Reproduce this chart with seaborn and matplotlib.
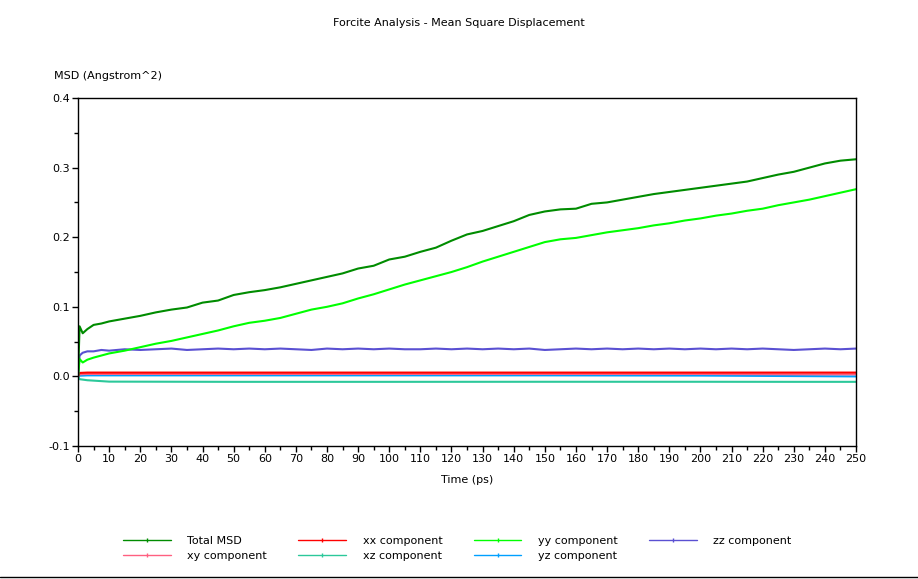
import pandas as pd
import matplotlib.pyplot as plt
import seaborn as sns
from matplotlib.lines import Line2D
from matplotlib.ticker import MultipleLocator, FormatStrFormatter

# ── data ──────────────────────────────────────────────────────
time = [0, 0.5, 1.5, 3, 5, 7.5] + list(range(10, 255, 5))

total_msd = [0.0, 0.072, 0.062, 0.068, 0.074, 0.076,
             0.079, 0.083, 0.087, 0.092, 0.096, 0.099, 0.106, 0.109, 0.117, 0.121,
             0.124, 0.128, 0.133, 0.138, 0.143, 0.148, 0.155, 0.159, 0.168, 0.172,
             0.179, 0.185, 0.195, 0.204, 0.209, 0.216, 0.223, 0.232, 0.237, 0.240,
             0.241, 0.248, 0.250, 0.254, 0.258, 0.262, 0.265, 0.268, 0.271, 0.274,
             0.277, 0.280, 0.285, 0.290, 0.294, 0.300, 0.306, 0.310, 0.312]

yy = [0.0, 0.025, 0.020, 0.024, 0.027, 0.030,
      0.033, 0.037, 0.042, 0.047, 0.051, 0.056, 0.061, 0.066, 0.072, 0.077,
      0.080, 0.084, 0.090, 0.096, 0.100, 0.105, 0.112, 0.118, 0.125, 0.132,
      0.138, 0.144, 0.150, 0.157, 0.165, 0.172, 0.179, 0.186, 0.193, 0.197,
      0.199, 0.203, 0.207, 0.210, 0.213, 0.217, 0.220, 0.224, 0.227, 0.231,
      0.234, 0.238, 0.241, 0.246, 0.250, 0.254, 0.259, 0.264, 0.269]

zz = [0.0, 0.030, 0.034, 0.036, 0.036, 0.038,
      0.037, 0.039, 0.038, 0.039, 0.040, 0.038, 0.039, 0.040, 0.039, 0.040,
      0.039, 0.040, 0.039, 0.038, 0.040, 0.039, 0.040, 0.039, 0.040, 0.039,
      0.039, 0.040, 0.039, 0.040, 0.039, 0.040, 0.039, 0.040, 0.038, 0.039,
      0.040, 0.039, 0.040, 0.039, 0.040, 0.039, 0.040, 0.039, 0.040, 0.039,
      0.040, 0.039, 0.040, 0.039, 0.038, 0.039, 0.040, 0.039, 0.040]

time_flat = [0, 0.5, 3, 10, 50, 100, 150, 200, 230, 250]
xx = [0.0, 0.005, 0.0055, 0.0055, 0.0055, 0.0055, 0.0055, 0.0055, 0.0055, 0.0055]
xy = [0.0, 0.003, 0.0035, 0.0035, 0.0035, 0.0035, 0.0035, 0.0035, 0.003, 0.003]
xz = [0.0, -0.004, -0.0055, -0.0075, -0.0078, -0.0078, -0.0077, -0.0077, -0.0078, -0.0078]
yz = [0.0, 0.001, 0.0015, 0.0015, 0.0015, 0.0015, 0.0015, 0.0012, 0.0005, 0.0]

colors = {
    'Total MSD': '#008c00',
    'xx component': '#ff0000',
    'yy component': '#00ff00',
    'zz component': '#5a50d2',
    'xy component': '#ff6080',
    'xz component': '#2cc89a',
    'yz component': '#00a0ff',
}

# ── long table for seaborn ────────────────────────────────────
frames = []
for name, t, v in [('xz component', time_flat, xz), ('yz component', time_flat, yz),
                   ('xy component', time_flat, xy), ('xx component', time_flat, xx),
                   ('zz component', time, zz), ('yy component', time, yy),
                   ('Total MSD', time, total_msd)]:
    frames.append(pd.DataFrame({'time': t, 'msd': v, 'series': name}))
df = pd.concat(frames, ignore_index=True)

sns.set_style('white')
plt.rcParams.update({
    'font.family': ['DejaVu Sans'],
    'font.size': 8,
    'text.color': 'black',
    'axes.labelcolor': 'black',
    'xtick.color': 'black',
    'ytick.color': 'black',
})

fig = plt.figure(figsize=(9.18, 5.79), dpi=100)
ax = fig.add_axes([0.085, 0.2297, 0.8475, 0.601])

sns.lineplot(data=df, x='time', y='msd', hue='series', palette=colors,
             hue_order=list(df['series'].unique()), sort=False,
             linewidth=1.5, legend=False, ax=ax, estimator=None)

ax.set_xlim(0, 250)
ax.set_ylim(-0.1, 0.4)
ax.xaxis.set_major_locator(MultipleLocator(10))
ax.xaxis.set_minor_locator(MultipleLocator(5))
ax.yaxis.set_major_locator(MultipleLocator(0.1))
ax.yaxis.set_minor_locator(MultipleLocator(0.05))
ax.yaxis.set_major_formatter(FormatStrFormatter('%.1f'))
ax.tick_params(which='both', direction='out', color='black', width=1,
               bottom=True, left=True, labelsize=8, pad=2)
ax.tick_params(which='major', length=4)
ax.tick_params(which='minor', length=3)
for s in ax.spines.values():
    s.set_color('black')
    s.set_linewidth(1)

ax.set_xlabel('Time (ps)', fontsize=8, labelpad=8)
ax.set_ylabel('')
fig.text(0.0588, 0.868, 'MSD (Angstrom^2)', fontsize=8, ha='left', va='center')
fig.text(0.5, 0.960, 'Forcite Analysis - Mean Square Displacement',
         fontsize=8, ha='center', va='center')

# legend: 4 columns, filled column-wise
order = ['Total MSD', 'xy component', 'xx component', 'xz component',
         'yy component', 'yz component', 'zz component']
handles = [Line2D([0], [0], color=colors[n], lw=1, marker='|', markersize=3,
                  markeredgewidth=1) for n in order]
fig.legend(handles, order, loc='upper left', bbox_to_anchor=(0.134, 0.074),
           ncol=4, frameon=False, fontsize=8, handlelength=4.3,
           handletextpad=1.5, columnspacing=2.8, labelspacing=0.4,
           borderaxespad=0, borderpad=0)

fig.add_artist(Line2D([0, 1], [0.003, 0.003], color='black', lw=1,
                      transform=fig.transFigure))

fig.savefig('out.png', dpi=100)
